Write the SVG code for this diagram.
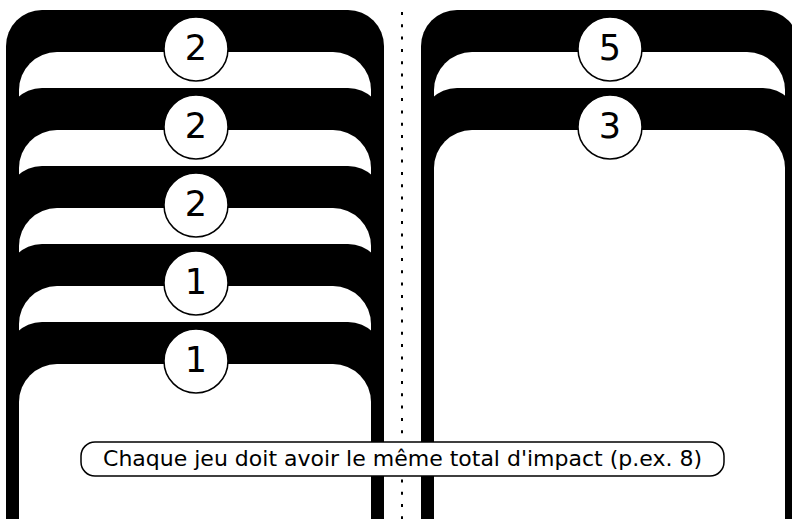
<svg xmlns="http://www.w3.org/2000/svg" width="792" height="519" viewBox="0 0 792 519">
<style>
.outer{fill:#000}
.inner{fill:#fff}
.badge{fill:#fff;stroke:#000;stroke-width:1.5}
.num{font-family:"DejaVu Sans",sans-serif;font-size:35px;fill:#000;text-anchor:middle}
.label{font-family:"DejaVu Sans",sans-serif;font-size:22px;fill:#000;text-anchor:middle}
.sep{stroke:#000;stroke-width:2;stroke-dasharray:3 9.3;fill:none}
</style>
<rect width="792" height="519" fill="#fff"/>
<g id="separator">
<line class="sep" x1="402" y1="12" x2="402" y2="519"/>
</g>
<g id="left-card-1">
<rect class="outer" x="6" y="10" width="378" height="600" rx="36"/>
<rect class="inner" x="19" y="52" width="352" height="600" rx="38"/>
<circle class="badge" cx="196" cy="49" r="32"/>
<text class="num" x="196" y="60">2</text>
</g>
<g id="left-card-2">
<rect class="outer" x="6" y="88" width="378" height="600" rx="36"/>
<rect class="inner" x="19" y="130" width="352" height="600" rx="38"/>
<circle class="badge" cx="196" cy="127" r="32"/>
<text class="num" x="196" y="138">2</text>
</g>
<g id="left-card-3">
<rect class="outer" x="6" y="166" width="378" height="600" rx="36"/>
<rect class="inner" x="19" y="208" width="352" height="600" rx="38"/>
<circle class="badge" cx="196" cy="205" r="32"/>
<text class="num" x="196" y="216">2</text>
</g>
<g id="left-card-4">
<rect class="outer" x="6" y="244" width="378" height="600" rx="36"/>
<rect class="inner" x="19" y="286" width="352" height="600" rx="38"/>
<circle class="badge" cx="196" cy="283" r="32"/>
<text class="num" x="196" y="294">1</text>
</g>
<g id="left-card-5">
<rect class="outer" x="6" y="322" width="378" height="600" rx="36"/>
<rect class="inner" x="19" y="364" width="352" height="600" rx="38"/>
<circle class="badge" cx="196" cy="361" r="32"/>
<text class="num" x="196" y="372">1</text>
</g>
<g id="right-card-1">
<rect class="outer" x="421" y="10" width="378" height="600" rx="36"/>
<rect class="inner" x="434" y="52" width="351" height="600" rx="38"/>
<circle class="badge" cx="610" cy="49" r="32"/>
<text class="num" x="610" y="60">5</text>
</g>
<g id="right-card-2">
<rect class="outer" x="421" y="88" width="378" height="600" rx="36"/>
<rect class="inner" x="434" y="130" width="351" height="600" rx="38"/>
<circle class="badge" cx="610" cy="127" r="32"/>
<text class="num" x="610" y="138">3</text>
</g>
<g id="note">
<rect x="81" y="442" width="643" height="34" rx="14" fill="#fff" stroke="#000" stroke-width="1.5"/>
<text class="label" x="402.5" y="466">Chaque jeu doit avoir le même total d'impact (p.ex. 8)</text>
</g>
</svg>
